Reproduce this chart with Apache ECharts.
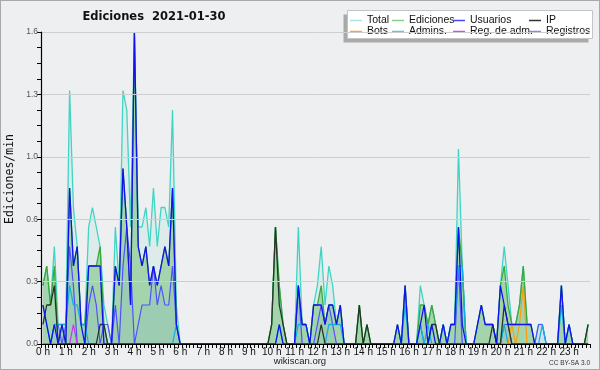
<!DOCTYPE html>
<html><head><meta charset="utf-8">
<script src="https://cdn.jsdelivr.net/npm/echarts@6/dist/echarts.min.js"></script>
<style>
html,body{margin:0;padding:0;background:#efefef;}
#c{width:598px;height:368px;border:1px solid #a8a8a8;background:#eeeff0;}
</style></head>
<body><div id="c"></div>
<script>
// 10-minute bins (6 per hour), values in edits/min
const hourLabels = ['0 h','1 h','2 h','3 h','4 h','5 h','6 h','7 h','8 h','9 h','10 h','11 h','12 h','13 h','14 h','15 h','16 h','17 h','18 h','19 h','20 h','21 h','22 h','23 h'];
const total = [
 0.3,0.4,0.2,0.5,0.1,0.1, 0.1,1.3,0.7,0.5,0.1,0.1, 0.6,0.7,0.6,0.5,0.2,0.1, 0,0.6,0.3,1.3,1.2,0.6,
 1.6,0.6,0.6,0.7,0.5,0.8, 0.5,0.7,0.7,0.6,1.2,0.2, 0,0,0,0,0,0, 0,0,0,0,0,0,
 0,0,0,0,0,0, 0,0,0,0,0,0, 0.1,0.6,0.3,0.1,0,0, 0,0.6,0.1,0.1,0,0.2,
 0.3,0.5,0.2,0.4,0.3,0.1, 0.2,0,0,0,0,0.2, 0,0.1,0,0,0,0, 0,0,0,0.1,0,0.3,
 0,0,0,0.3,0.2,0.1, 0.2,0.1,0,0.1,0,0.1, 0.1,1.0,0.4,0,0,0, 0.1,0.2,0.1,0.1,0.1,0,
 0.3,0.5,0.3,0.1,0.1,0.2, 0.4,0.1,0.1,0,0.1,0.1, 0,0,0,0,0.3,0, 0.1,0,0,0,0,0.1];
const ediciones = [
 0.3,0.4,0.2,0.4,0,0.1, 0,0.8,0.4,0.5,0.1,0.1, 0.4,0.4,0.4,0.5,0.1,0, 0,0.4,0.3,0.9,0.6,0.2,
 1.6,0.5,0.4,0.5,0.3,0.4, 0.3,0.4,0.5,0.4,0.8,0.1, 0,0,0,0,0,0, 0,0,0,0,0,0,
 0,0,0,0,0,0, 0,0,0,0,0,0, 0.1,0.6,0.3,0.1,0,0, 0,0.3,0.1,0.1,0,0.2,
 0.2,0.3,0.1,0.2,0.2,0.1, 0.2,0,0,0,0,0.2, 0,0.1,0,0,0,0, 0,0,0,0.1,0,0.3,
 0,0,0,0.2,0.2,0.1, 0.2,0.1,0,0.1,0,0.1, 0.1,0.6,0.4,0,0,0, 0.1,0.2,0.1,0.1,0.1,0,
 0.3,0.4,0.2,0.1,0.1,0.2, 0.4,0.1,0.1,0,0,0, 0,0,0,0,0.3,0, 0.1,0,0,0,0,0.1];
const usuarios = [
 0.2,0.1,0,0.1,0,0.1, 0,0.8,0.4,0.5,0.1,0, 0.4,0.4,0.4,0.4,0,0, 0,0.4,0.3,0.9,0.6,0.2,
 1.6,0.5,0.4,0.5,0.3,0.4, 0.3,0.4,0.5,0.4,0.8,0.1, 0,0,0,0,0,0, 0,0,0,0,0,0,
 0,0,0,0,0,0, 0,0,0,0,0,0, 0,0,0.1,0,0,0, 0,0.3,0.1,0.1,0,0.2,
 0.2,0.2,0.1,0.2,0.2,0.1, 0.2,0,0,0,0,0, 0,0,0,0,0,0, 0,0,0,0.1,0,0.3,
 0,0,0,0.1,0.2,0, 0.1,0,0,0.1,0,0.1, 0.1,0.6,0.1,0,0,0, 0.1,0.2,0.1,0.1,0.1,0,
 0.3,0.2,0.1,0.1,0.1,0.1, 0.1,0.1,0.1,0,0,0, 0,0,0,0,0.3,0, 0.1,0,0,0,0,0];
const ip = [
 0.1,0.2,0.2,0.3,0,0, 0,0,0,0,0,0, 0,0,0,0.1,0.1,0, 0,0,0,0,0,0,
 0,0,0,0,0,0, 0,0,0,0,0,0, 0,0,0,0,0,0, 0,0,0,0,0,0,
 0,0,0,0,0,0, 0,0,0,0,0,0, 0.1,0.6,0.2,0.1,0,0, 0,0,0,0,0,0,
 0,0.1,0,0,0,0, 0,0,0,0,0,0.2, 0,0.1,0,0,0,0, 0,0,0,0,0,0,
 0,0,0,0,0,0, 0.1,0.1,0,0,0,0, 0,0,0,0,0,0, 0,0,0,0,0.1,0,
 0,0.2,0.1,0,0,0, 0,0,0,0,0,0, 0,0,0,0,0,0, 0,0,0,0,0,0.1];
const bots = [
 0,0,0,0,0,0, 0,0,0,0,0,0, 0,0,0,0,0,0, 0,0,0,0,0,0,
 0,0,0,0,0,0, 0,0,0,0,0,0, 0,0,0,0,0,0, 0,0,0,0,0,0,
 0,0,0,0,0,0, 0,0,0,0,0,0, 0,0,0,0,0,0, 0,0,0,0,0,0,
 0,0,0,0,0,0, 0,0,0,0,0,0, 0,0,0,0,0,0, 0,0,0,0,0,0,
 0,0,0,0,0,0, 0,0,0,0,0,0, 0,0,0,0,0,0, 0,0,0,0,0,0,
 0,0,0,0.1,0,0.1, 0.3,0,0,0,0,0, 0,0,0,0,0,0, 0,0,0,0,0,0];
const admins = [
 0.2,0.1,0,0.1,0.1,0.1, 0.1,0.3,0.2,0.2,0.1,0.1, 0,0,0,0,0,0, 0,0,0,0,0,0,
 0,0,0,0,0,0, 0,0,0,0,0,0.1, 0,0,0,0,0,0, 0,0,0,0,0,0,
 0,0,0,0,0,0, 0,0,0,0,0,0, 0,0,0.1,0,0,0, 0,0.1,0.1,0.1,0,0,
 0,0,0,0.1,0.1,0.1, 0.1,0,0,0,0,0, 0,0,0,0,0,0, 0,0,0,0,0,0.2,
 0,0,0,0.1,0,0.1, 0,0,0,0.1,0,0.1, 0.1,0.4,0.4,0,0,0, 0,0,0,0,0,0,
 0,0.1,0,0,0,0, 0,0,0,0,0,0.1, 0,0,0,0,0.2,0, 0.1,0,0,0,0,0];
const regAdm = [
 0,0,0,0,0,0, 0,0,0.1,0,0,0, 0,0,0,0,0,0, 0,0,0,0,0,0,
 0,0,0,0,0,0, 0,0,0,0,0,0, 0,0,0,0,0,0, 0,0,0,0,0,0,
 0,0,0,0,0,0, 0,0,0,0,0,0, 0,0,0,0,0,0, 0,0,0,0,0,0,
 0,0,0,0,0,0, 0,0,0,0,0,0, 0,0,0,0,0,0, 0,0,0,0,0,0,
 0,0,0,0,0,0, 0,0,0,0,0,0, 0,0,0,0,0,0, 0,0,0,0,0,0,
 0,0,0,0,0,0, 0,0,0,0,0,0, 0,0,0,0,0,0, 0,0,0,0,0,0];
const registros = [
 0,0,0,0.1,0.1,0, 0.1,0.5,0.3,0,0,0, 0.2,0.3,0.2,0,0.1,0.1, 0,0.2,0,0.4,0.6,0.4,
 0,0.1,0.2,0.2,0.2,0.4, 0.2,0.3,0.2,0.2,0.4,0.1, 0,0,0,0,0,0, 0,0,0,0,0,0,
 0,0,0,0,0,0, 0,0,0,0,0,0, 0,0,0,0,0,0, 0,0.3,0,0,0,0,
 0.1,0.2,0.1,0.2,0.1,0, 0,0,0,0,0,0, 0,0,0,0,0,0, 0,0,0,0,0,0,
 0,0,0,0.1,0,0, 0,0,0,0,0,0, 0,0.4,0,0,0,0, 0,0,0,0,0,0,
 0,0.1,0.1,0,0,0, 0,0,0,0,0.1,0.1, 0,0,0,0,0,0, 0,0,0,0,0,0];
const yTicks = ['0.0','0.3','0.6','1.0','1.3','1.6'];
const legendNames = ['Total','Ediciones','Usuarios','IP','Bots','Admins.','Reg. de adm.','Registros'];
const legendColors = ['#a6e6e4','#86d086','#4646ff','#333333','#ffa428','#44d2e6','#e040f8','#8484ff'];

const pts = a => a.map((v,i)=>[(i+0.5)/6, v]);
const chart = echarts.init(document.getElementById('c'));
function line(name, data, color, z, width, area){
  const s = {name, type:'line', data:pts(data), showSymbol:false, symbol:'none', z,
    lineStyle:{color, width}, itemStyle:{color}, animation:false, silent:true};
  if(area) s.areaStyle = {color: area, origin:'start'};
  return s;
}
const colX = [349, 391, 452, 528];
const rowY = [19.5, 30.5];
const legendGraphics = [];
legendNames.forEach((n,k)=>{
  const x = colX[k%4], y = rowY[Math.floor(k/4)];
  legendGraphics.push({type:'line', z:5, shape:{x1:x, y1:y, x2:x+12, y2:y}, style:{stroke:legendColors[k], lineWidth:1.5}});
  legendGraphics.push({type:'text', z:5, x:x+17, y:y, style:{text:n, font:'10.5px "Liberation Sans"', fill:'#111', textVerticalAlign:'middle'}});
});
chart.setOption({
  backgroundColor:'#eeeff0',
  animation:false,
  graphic:[
    {type:'rect', z:3, shape:{x:342.5, y:13.5, width:245, height:28}, style:{fill:'#a9a9a9'}},
    {type:'rect', z:4, shape:{x:346.5, y:9.5, width:245, height:28}, style:{fill:'#ffffff', stroke:'#c4c4c4', lineWidth:1}},
    {type:'text', x:153, y:16, style:{text:'Ediciones  2021-01-30', font:'bold 11.5px "DejaVu Sans"', fill:'#111', textAlign:'center', textVerticalAlign:'middle'}},
    {type:'text', x:9, y:178, rotation:Math.PI/2, style:{text:'Ediciones/min', font:'11.5px "DejaVu Sans Mono"', fill:'#111', textAlign:'center', textVerticalAlign:'middle'}},
    {type:'text', x:299, y:360, style:{text:'wikiscan.org', font:'9.5px "Liberation Sans"', fill:'#222', textAlign:'center', textVerticalAlign:'middle'}},
    {type:'text', x:589, y:362, style:{text:'CC BY-SA 3.0', font:'6.5px "Liberation Sans"', fill:'#333', textAlign:'right', textVerticalAlign:'middle'}}
  ].concat(legendGraphics),
  grid:{left:40, right:9, top:31, bottom:25, containLabel:false},
  xAxis:{type:'value', min:0, max:24, interval:1, z:10,
    axisLine:{show:true, lineStyle:{color:'#000', width:1.2}},
    axisTick:{show:true, length:4, lineStyle:{color:'#000'}},
    minorTick:{show:true, splitNumber:6, length:4, lineStyle:{color:'#000'}},
    splitLine:{show:false},
    axisLabel:{fontFamily:'Liberation Sans', fontSize:10, color:'#111', margin:3, padding:[0,0,0,4],
      showMaxLabel:false, formatter:v=> v<24 ? hourLabels[v] : ''}},
  yAxis:{type:'value', min:0, max:1.6, interval:0.32, z:10,
    axisLine:{show:true, lineStyle:{color:'#000', width:1.2}},
    axisTick:{show:true, length:4, lineStyle:{color:'#000'}},
    minorTick:{show:true, splitNumber:4, length:4, lineStyle:{color:'#000'}},
    splitLine:{show:true, lineStyle:{color:'#cdcecf', width:1}},
    axisLabel:{fontFamily:'Liberation Sans', fontSize:8.5, color:'#555', margin:3,
      formatter:v=> yTicks[Math.round(v/0.32)]}},
  series:[
    line('Total', total, '#3fd4c4', 1, 1.3, 'rgba(70,212,192,0.14)'),
    line('Ediciones', ediciones, '#3aa83a', 2, 1.3, 'rgba(56,168,56,0.5)'),
    line('Registros', registros, '#5050ff', 3, 1.2, 'rgba(64,96,255,0.1)'),
    line('Admins.', admins, '#12b0e2', 4, 1.3),
    line('Bots', bots, '#ff9a10', 5, 1.2),
    line('Reg. de adm.', regAdm, '#d030f0', 6, 1.2),
    line('IP', ip, '#253525', 7, 1.3),
    line('Usuarios', usuarios, '#1010f0', 8, 1.3)
  ]
});
</script></body></html>
